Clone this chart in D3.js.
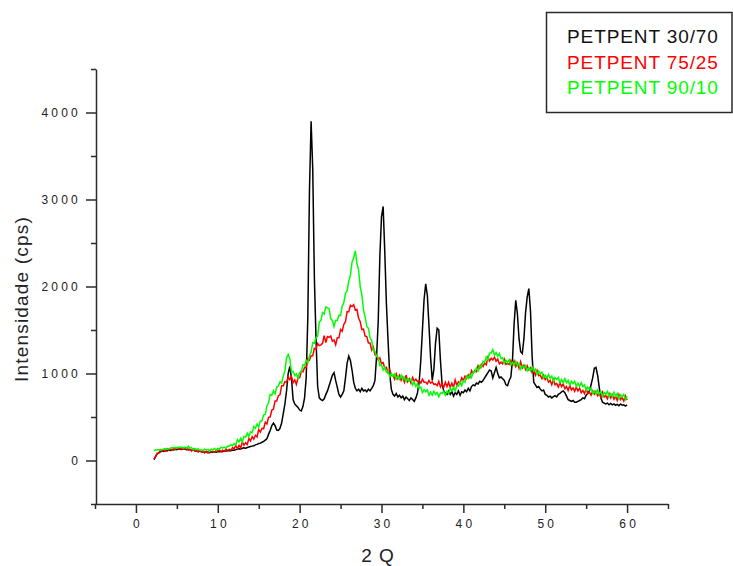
<!DOCTYPE html>
<html><head><meta charset="utf-8">
<script src="https://cdn.jsdelivr.net/npm/d3@7"></script>
<style>body{margin:0;background:#fff} svg{display:block}</style>
</head><body><svg id="c" width="733" height="566"></svg>
<script>
// 2-theta grid of the scan
const thetaStart = 2.2, thetaStep = 0.2;
const seriesNames = ["PETPENT 30/70", "PETPENT 75/25", "PETPENT 90/10"];
const seriesColors = ["#000000", "#ff0000", "#00ff00"];

const pet3070 = [
 10,45,75,90,100,110,105,115,110,120,
 115,125,120,130,125,135,130,128,135,130,
 125,130,122,118,120,112,110,105,108,100,
 98,92,100,95,90,98,95,100,96,102,
 100,105,102,110,108,112,115,112,120,118,
 125,130,135,132,140,145,142,150,155,160,
 165,170,180,185,195,200,210,220,235,250,
 300,345,400,430,400,350,345,370,430,540,
 650,800,1000,1080,950,700,650,630,610,580,
 570,620,720,950,1650,3100,3900,3350,2100,1400,
 850,720,700,690,710,760,800,860,920,980,
 1010,920,840,760,730,760,800,950,1120,1200,
 1150,1040,900,830,800,820,790,830,800,810,
 790,820,800,830,860,920,1200,1600,2350,2800,
 2920,2400,1800,1380,1000,820,760,740,770,730,
 750,720,740,700,730,710,690,720,700,680,
 720,780,900,1150,1500,1850,2030,1900,1550,1180,
 920,1050,1350,1520,1500,1150,880,800,780,760,
 800,760,790,740,780,760,800,750,790,780,
 810,790,830,800,850,870,860,890,880,910,
 900,920,950,980,1010,1040,1030,950,1010,1070,
 1000,950,960,940,920,870,860,920,960,1150,
 1570,1840,1690,1400,1250,1230,1400,1700,1880,1975,
 1720,1200,900,870,840,850,820,800,810,760,
 750,730,740,720,735,745,730,760,770,790,
 800,780,740,700,690,680,690,670,670,680,
 690,700,720,710,750,770,800,870,950,1060,
 1070,980,840,720,670,660,650,660,640,655,
 640,650,635,645,630,650,635,640,625,640
];
const pet7525 = [
 15,50,84,83,124,109,122,108,137,118,
 140,117,139,128,146,132,137,130,142,131,
 140,120,129,108,132,109,112,98,117,98,
 110,87,106,86,114,99,102,98,116,106,
 122,100,119,106,129,116,127,120,147,136,
 173,135,175,142,215,175,205,185,252,225,
 275,245,290,270,355,325,370,365,440,420,
 495,500,580,590,685,685,745,755,860,860,
 905,900,960,930,965,895,925,875,950,950,
 1025,1020,1070,1070,1175,1155,1205,1205,1290,1280,
 1345,1320,1330,1350,1435,1355,1425,1415,1430,1370,
 1385,1330,1410,1410,1505,1485,1565,1595,1710,1710,
 1785,1770,1790,1730,1735,1635,1595,1505,1510,1430,
 1425,1350,1350,1270,1305,1215,1205,1155,1180,1110,
 1125,1060,1070,1010,1045,975,980,935,995,940,
 980,920,960,900,980,905,940,890,955,910,
 935,905,915,890,935,900,900,880,920,890,
 905,875,880,860,910,845,885,840,900,850,
 900,840,890,840,925,865,905,885,950,920,
 970,940,985,955,1035,1005,1035,1020,1090,1060,
 1105,1080,1120,1100,1185,1145,1175,1155,1190,1140,
 1165,1110,1130,1110,1165,1105,1115,1105,1150,1100,
 1145,1080,1120,1060,1135,1065,1095,1045,1090,1040,
 1065,1010,1030,980,1035,975,980,940,980,930,
 955,900,920,870,930,870,885,845,895,850,
 880,825,850,805,865,810,835,795,845,800,
 830,780,805,770,825,770,785,750,800,762,
 795,745,770,725,785,730,745,710,768,720,
 755,705,738,690,757,700,723,685,742,695
];
const pet9010 = [
 112,122,121,126,116,128,133,138,128,136,
 137,150,146,150,141,154,150,155,143,154,
 140,164,141,148,124,138,128,135,116,124,
 114,130,121,128,104,131,120,140,116,139,
 130,154,144,153,138,166,163,182,168,194,
 180,240,212,255,215,277,270,315,275,330,
 320,390,370,420,385,455,455,525,530,630,
 660,760,750,800,765,845,855,905,890,970,
 1030,1180,1220,1170,1015,1025,975,995,945,1010,
 1020,1100,1090,1150,1125,1205,1245,1355,1350,1410,
 1430,1590,1610,1700,1685,1765,1755,1745,1630,1610,
 1540,1610,1610,1670,1665,1775,1815,1925,1950,2060,
 2130,2280,2330,2410,2265,2195,1995,1905,1730,1650,
 1540,1520,1410,1380,1265,1255,1195,1185,1090,1100,
 1040,1070,1015,1030,960,1000,970,995,935,970,
 935,980,935,955,905,940,915,935,870,900,
 850,885,830,845,780,815,790,810,750,785,
 750,795,760,780,733,777,770,795,750,795,
 770,830,800,840,800,860,855,900,860,915,
 900,970,945,990,955,1020,1015,1065,1030,1090,
 1070,1140,1130,1190,1155,1235,1235,1275,1210,1240,
 1200,1230,1170,1180,1115,1155,1125,1160,1100,1130,
 1095,1140,1095,1115,1050,1090,1065,1090,1030,1065,
 1030,1075,1030,1050,990,1025,995,1015,950,980,
 945,990,945,970,910,955,930,955,895,930,
 895,940,895,920,863,910,885,910,852,888,
 852,895,850,870,805,845,815,835,770,800,
 765,810,765,790,737,783,760,795,732,770,
 738,785,740,768,710,755,733,760,700,738
];
const xTicks = [0, 10, 20, 30, 40, 50, 60];
const xMinorTicks = [-5, 5, 15, 25, 35, 45, 55, 65];
const yTicks = [0, 1000, 2000, 3000, 4000];
const yMinorTicks = [-500, 500, 1500, 2500, 3500, 4500];
const xTitle = "2 Q";
const yTitle = "Intensidade (cps)";

const FONT = "'Liberation Sans', Arial, sans-serif";
const svg = d3.select("#c");
const x = d3.scaleLinear().domain([-5, 65]).range([95, 668]);
const y = d3.scaleLinear().domain([-500, 4500]).range([504, 69]);
const axisColor = "#2a2a2a";

// curves
const series = [pet3070, pet7525, pet9010];
const line = d3.line()
  .x((d, i) => x(thetaStart + i * thetaStep))
  .y(d => y(d));
series.forEach((s, k) => {
  svg.append("path").datum(s)
    .attr("d", line)
    .attr("fill", "none")
    .attr("stroke", seriesColors[k])
    .attr("stroke-width", 1.5)
    .attr("stroke-linejoin", "miter");
});

// axes
function styleAxis(g) {
  g.selectAll("path.domain").attr("stroke", axisColor).attr("stroke-width", 1.5);
  g.selectAll(".tick line").attr("stroke", axisColor).attr("stroke-width", 1.5);
  g.selectAll("text").attr("fill", "#222").style("font-family", FONT)
    .style("font-size", "12px").style("letter-spacing", "3.2px");
}
const fmt = d3.format("d");
const gx = svg.append("g").attr("transform", "translate(0,504)")
  .call(d3.axisBottom(x).tickValues(xTicks).tickFormat(fmt).tickSize(9).tickSizeOuter(0).tickPadding(6));
styleAxis(gx);
gx.selectAll("text").attr("dx", "1.6px");
const gxm = svg.append("g").attr("transform", "translate(0,504)")
  .call(d3.axisBottom(x).tickValues(xMinorTicks).tickSize(5).tickFormat(""));
gxm.select("path.domain").remove();
styleAxis(gxm);

const gy = svg.append("g").attr("transform", "translate(96,0)")
  .call(d3.axisLeft(y).tickValues(yTicks).tickFormat(fmt).tickSize(10).tickSizeOuter(0).tickPadding(5));
styleAxis(gy);
const gym = svg.append("g").attr("transform", "translate(96,0)")
  .call(d3.axisLeft(y).tickValues(yMinorTicks).tickSize(5).tickFormat(""));
gym.select("path.domain").remove();
styleAxis(gym);

// titles
svg.append("text").attr("x", 378).attr("y", 562).attr("text-anchor", "middle")
  .style("font-family", FONT).style("font-size", "19px").style("letter-spacing", "1px")
  .attr("fill", "#222").text(xTitle);
svg.append("text").attr("transform", "translate(28,299) rotate(-90)")
  .attr("text-anchor", "middle")
  .style("font-family", FONT).style("font-size", "19px").style("letter-spacing", "1.2px")
  .attr("fill", "#222").text(yTitle);

// legend
svg.append("rect").attr("x", 546.5).attr("y", 12.5).attr("width", 185.5).attr("height", 100)
  .attr("fill", "#fff").attr("stroke", axisColor).attr("stroke-width", 1.5);
seriesNames.forEach((n, k) => {
  svg.append("text").attr("x", 567).attr("y", 43 + k * 25.5)
    .style("font-family", FONT).style("font-size", "19px").style("letter-spacing", "0.9px")
    .attr("fill", seriesColors[k] === "#000000" ? "#111" : seriesColors[k]).text(n);
});
</script>
</body></html>
